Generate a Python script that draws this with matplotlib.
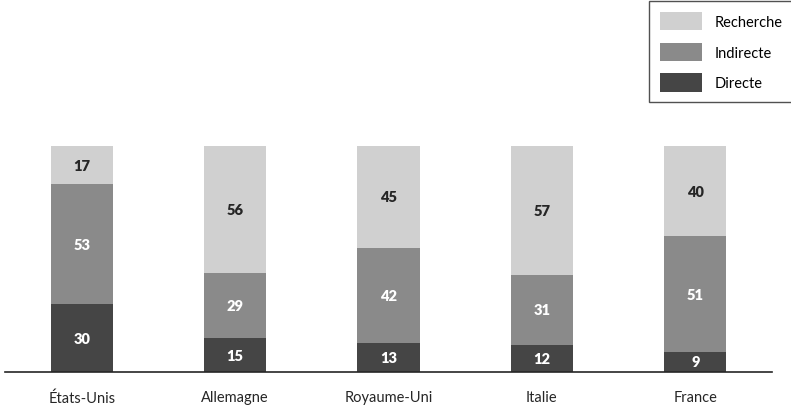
import numpy as np
import matplotlib.pyplot as plt

plt.rcParams['font.family'] = ['Lato', 'DejaVu Sans']

pays = ['États-Unis', 'Allemagne', 'Royaume-Uni', 'Italie', 'France']
directe = [30, 15, 13, 12, 9]
indirecte = [53, 29, 42, 31, 51]
recherche = [17, 56, 45, 57, 40]

c_dir = '#454545'
c_ind = '#8a8a8a'
c_rec = '#d0d0d0'

fig = plt.figure(figsize=(7.91, 4.06), dpi=100)
ax = fig.add_axes([5/791, 33/406, 767/791, 226/406])

x = np.arange(len(pays))
w = 0.405
d = np.array(directe)
i = np.array(indirecte)
r = np.array(recherche)
b1 = ax.bar(x, d, w, color=c_dir, label='Directe')
b2 = ax.bar(x, i, w, bottom=d, color=c_ind, label='Indirecte')
b3 = ax.bar(x, r, w, bottom=d + i, color=c_rec, label='Recherche')

for k in range(len(pays)):
    ax.text(x[k], d[k] / 2, str(d[k]), ha='center', va='center', color='white',
            fontsize=10.5, fontweight='heavy')
    ax.text(x[k], d[k] + i[k] / 2, str(i[k]), ha='center', va='center', color='white',
            fontsize=10.5, fontweight='heavy')
    ax.text(x[k], d[k] + i[k] + r[k] / 2, str(r[k]), ha='center', va='center',
            color='#262626', fontsize=10.5, fontweight='heavy')

ax.set_xlim(-0.5, 4.5)
ax.set_ylim(0, 100)
ax.set_xticks(x)
ax.set_xticklabels(pays, fontsize=10.5, color='#262626')
ax.tick_params(axis='x', length=0, pad=13)
ax.set_yticks([])
for s in ['top', 'right', 'left']:
    ax.spines[s].set_visible(False)
ax.spines['bottom'].set_color('#262626')
ax.spines['bottom'].set_linewidth(1.2)

leg = fig.legend(handles=[b3, b2, b1], labels=['Recherche', 'Indirecte', 'Directe'],
                 loc='upper right', bbox_to_anchor=(1.003, 0.995), frameon=True,
                 fancybox=False, edgecolor='#262626', fontsize=10.5,
                 handlelength=2.9, handleheight=1.55, labelspacing=0.85,
                 handletextpad=0.85, borderpad=0.75, borderaxespad=0)
leg.get_frame().set_linewidth(1.0)

fig.savefig('out.png', dpi=100)
